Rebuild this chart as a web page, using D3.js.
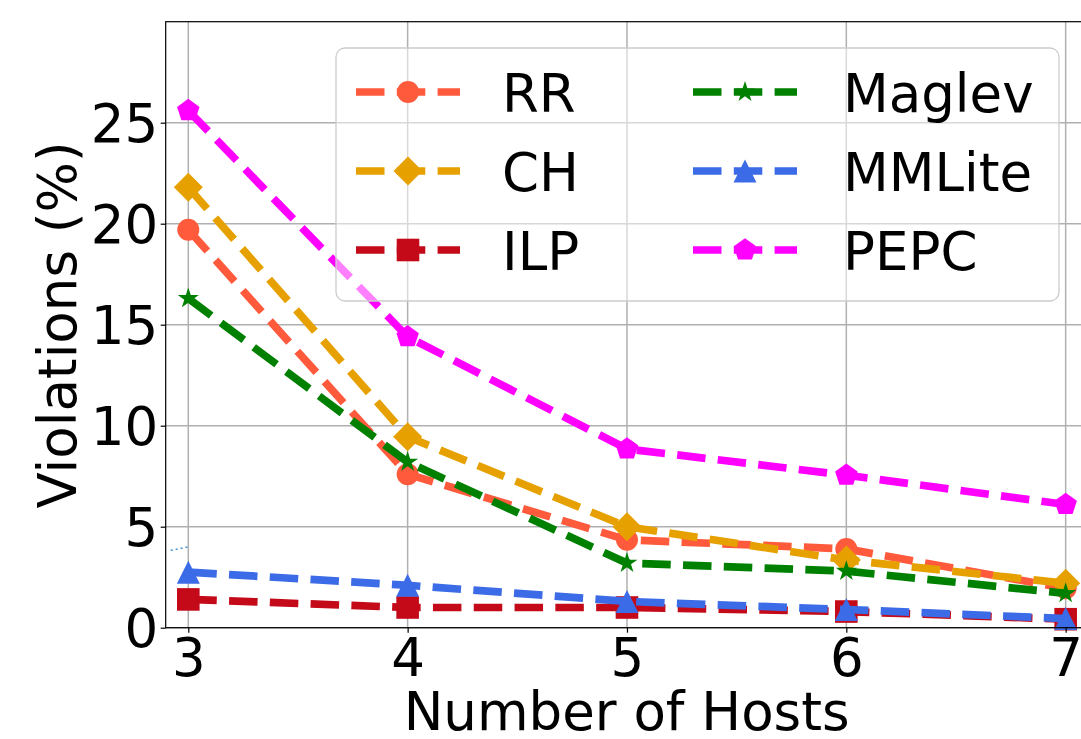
<!DOCTYPE html>
<html>
<head>
<meta charset="utf-8">
<script src="https://d3js.org/d3.v7.min.js"></script>
<style>
body { margin: 0; background: #fff; }
text { font-family: "DejaVu Sans", sans-serif; fill: #000; }
</style>
</head>
<body>
<div id="chart"></div>
<script>
// Data
var hosts = [3, 4, 5, 6, 7];
var rr = [19.7, 7.6, 4.35, 3.9, 1.95];
var ch = [21.8, 9.45, 5.0, 3.35, 2.2];
var ilp = [1.4, 1.0, 1.0, 0.8, 0.42];
var maglev = [16.3, 8.2, 3.2, 2.8, 1.7];
var mmlite = [2.75, 2.1, 1.3, 0.9, 0.45];
var pepc = [25.6, 14.4, 8.85, 7.55, 6.1];
var yTicks = [0, 5, 10, 15, 20, 25];
var names = ["RR", "CH", "ILP", "Maglev", "MMLite", "PEPC"];
var colors = ["#ff5a3c", "#e6a100", "#c40a18", "#008000", "#3b6be6", "#ff00ff"];
var markers = ["circle", "diamond", "square", "star", "triangle", "pentagon"];
var values = [rr, ch, ilp, maglev, mmlite, pepc];
// small stray dotted trace near x=3
var strayX = [2.92, 3.0];
var strayY = [3.83, 4.0];

// Chart params
var svgWidth = 1081;
var svgHeight = 739;
var plot = { left: 165.7, top: 21.7, right: 1087.6, bottom: 627.7 };
var fontSize = 53;
var lineWidth = 7.7;

var svg = d3.select("#chart")
    .append("svg")
    .attr("width", svgWidth)
    .attr("height", svgHeight);

var x = d3.scaleLinear().domain([2.897, 7.1]).range([plot.left, plot.right]);
var y = d3.scaleLinear().domain([0, 30]).range([plot.bottom, plot.top]);

// marker paths (pixel sizes)
function markerPath(type) {
    var p = d3.path();
    if (type === "circle") {
        p.arc(0, 0, 11, 0, 2 * Math.PI);
    } else if (type === "diamond") {
        var d = 14.5;
        p.moveTo(0, -d); p.lineTo(d, 0); p.lineTo(0, d); p.lineTo(-d, 0); p.closePath();
    } else if (type === "square") {
        var s = 11.3;
        p.rect(-s, -s, 2 * s, 2 * s);
    } else if (type === "triangle") {
        var t = 11.5;
        p.moveTo(0, -t); p.lineTo(t, t); p.lineTo(-t, t); p.closePath();
    } else if (type === "star") {
        var ro = 11, ri = ro * 0.382;
        for (var i = 0; i < 10; i++) {
            var r = i % 2 === 0 ? ro : ri;
            var a = -Math.PI / 2 + i * Math.PI / 5;
            if (i === 0) p.moveTo(r * Math.cos(a), r * Math.sin(a));
            else p.lineTo(r * Math.cos(a), r * Math.sin(a));
        }
        p.closePath();
    } else if (type === "pentagon") {
        var rp = 11.8;
        for (var j = 0; j < 5; j++) {
            var b = -Math.PI / 2 + j * 2 * Math.PI / 5;
            if (j === 0) p.moveTo(rp * Math.cos(b), rp * Math.sin(b));
            else p.lineTo(rp * Math.cos(b), rp * Math.sin(b));
        }
        p.closePath();
    }
    return p.toString();
}

// clip
svg.append("clipPath").attr("id", "clip")
    .append("rect")
    .attr("x", plot.left).attr("y", plot.top)
    .attr("width", plot.right - plot.left)
    .attr("height", plot.bottom - plot.top);

// grid
var grid = svg.append("g");
grid.selectAll(".vgrid")
    .data(hosts)
    .enter()
    .append("line")
    .attr("x1", d => x(d)).attr("x2", d => x(d))
    .attr("y1", plot.top).attr("y2", plot.bottom)
    .attr("stroke", "#b0b0b0")
    .attr("stroke-width", 1.5);
grid.selectAll(".hgrid")
    .data(yTicks)
    .enter()
    .append("line")
    .attr("x1", plot.left).attr("x2", plot.right)
    .attr("y1", d => y(d)).attr("y2", d => y(d))
    .attr("stroke", "#b0b0b0")
    .attr("stroke-width", 1.5);

// stray trace
svg.append("path")
    .attr("d", d3.line()(strayX.map((v, i) => [x(v), y(strayY[i])])))
    .attr("fill", "none")
    .attr("stroke", "#3a8fd8")
    .attr("stroke-width", 1.5)
    .attr("stroke-dasharray", "2,3");

// series
var lineGen = d3.line()
    .x((d, i) => x(hosts[i]))
    .y(d => y(d));

values.forEach(function(vals, k) {
    var g = svg.append("g");
    g.append("path")
        .attr("d", lineGen(vals))
        .attr("clip-path", "url(#clip)")
        .attr("fill", "none")
        .attr("stroke", colors[k])
        .attr("stroke-width", lineWidth)
        .attr("stroke-dasharray", "28.5,12.3");
    g.selectAll("path.m")
        .data(vals)
        .enter()
        .append("path")
        .attr("class", "m")
        .attr("d", markerPath(markers[k]))
        .attr("transform", (d, i) => `translate(${x(hosts[i])},${y(d)})`)
        .attr("fill", colors[k]);
});

// axes
var leftAxis = d3.axisLeft(y).tickValues(yTicks).tickSize(5).tickPadding(2.5);
var bottomAxis = d3.axisBottom(x).tickValues(hosts).tickSize(5).tickFormat(d3.format("d"));

var yAxis = svg.append("g")
    .attr("transform", `translate(${plot.left},0)`)
    .call(leftAxis);
var xAxis = svg.append("g")
    .attr("transform", `translate(0,${plot.bottom})`)
    .call(bottomAxis);

[xAxis, yAxis].forEach(function(a) {
    a.select(".domain").remove();
    a.selectAll(".tick line").attr("stroke", "#000").attr("stroke-width", 1.2);
    a.selectAll("text")
        .attr("font-family", "DejaVu Sans")
        .attr("font-size", fontSize)
        .attr("fill", "#000");
});
yAxis.selectAll("text").attr("dy", "0.36em");
xAxis.selectAll("text").attr("y", 676 - plot.bottom).attr("dy", 0);

// spines
svg.append("rect")
    .attr("x", plot.left).attr("y", plot.top)
    .attr("width", plot.right - plot.left)
    .attr("height", plot.bottom - plot.top)
    .attr("fill", "none")
    .attr("stroke", "#000")
    .attr("stroke-width", 1.2);

// axis labels
svg.append("text")
    .attr("x", (plot.left + plot.right) / 2)
    .attr("y", 730)
    .attr("text-anchor", "middle")
    .attr("font-size", fontSize)
    .text("Number of Hosts");

svg.append("text")
    .attr("transform", "translate(76,325) rotate(-90)")
    .attr("text-anchor", "middle")
    .attr("font-size", fontSize)
    .text("Violations (%)");

// legend
var legend = svg.append("g");
legend.append("rect")
    .attr("x", 336).attr("y", 48)
    .attr("width", 723).attr("height", 253)
    .attr("rx", 9)
    .attr("fill", "#fff")
    .attr("fill-opacity", 0.5)
    .attr("stroke", "#cccccc")
    .attr("stroke-width", 1.3);

var rowsY = [92, 171, 250];
var colHandle = [356, 693];
var colText = [502, 843];

names.forEach(function(name, k) {
    var col = Math.floor(k / 3);
    var row = k % 3;
    var ly = rowsY[row];
    var hx = colHandle[col];
    legend.append("line")
        .attr("x1", hx).attr("x2", hx + 104)
        .attr("y1", ly).attr("y2", ly)
        .attr("stroke", colors[k])
        .attr("stroke-width", lineWidth)
        .attr("stroke-dasharray", "28.5,12.3");
    legend.append("path")
        .attr("d", markerPath(markers[k]))
        .attr("transform", `translate(${hx + 52},${ly})`)
        .attr("fill", colors[k]);
    legend.append("text")
        .attr("x", colText[col])
        .attr("y", ly + 20)
        .attr("font-size", fontSize)
        .text(name);
});
</script>
</body>
</html>
